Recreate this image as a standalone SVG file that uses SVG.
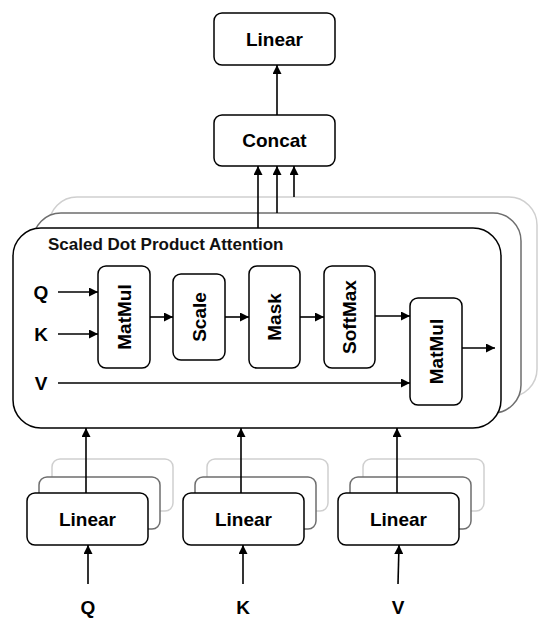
<svg xmlns="http://www.w3.org/2000/svg" width="550" height="634" viewBox="0 0 550 634">
<style>
.box{fill:#fff;stroke:#000;stroke-width:1.5}
.mid{fill:#fff;stroke:#6e6e6e;stroke-width:1.5}
.back{fill:#fff;stroke:#cfcfcf;stroke-width:1.5}
.t{font-family:"Liberation Sans",Arial,sans-serif;font-weight:bold;font-size:19px;fill:#000;text-anchor:middle}
.title{font-family:"Liberation Sans",Arial,sans-serif;font-weight:bold;font-size:17px;fill:#111}
.c{stroke:#000;stroke-width:1.6;fill:none;marker-end:url(#ah)}
</style>
<defs>
<marker id="ah" viewBox="0 0 10 10" refX="10" refY="5" markerWidth="9" markerHeight="9" markerUnits="userSpaceOnUse" orient="auto">
<path d="M0,0 L10,5 L0,10 z" fill="#000"/>
</marker>
</defs>
<rect width="550" height="634" fill="#fff"/>

<g id="linear-top">
<rect class="box" x="214" y="13" width="121" height="52" rx="8"/>
<text class="t" x="274.5" y="46">Linear</text>
</g>
<g id="concat">
<rect class="box" x="214" y="115" width="121" height="51" rx="8"/>
<text class="t" x="274.5" y="147">Concat</text>
</g>

<g id="attention-stack">
<rect class="back" x="49" y="197" width="488" height="200" rx="28"/>
<rect class="mid" x="33" y="213" width="488" height="200" rx="28"/>
</g>
<g id="attention">
<rect class="box" x="13" y="228" width="488" height="200" rx="28"/>
<text class="title" x="48" y="250">Scaled Dot Product Attention</text>
</g>

<g id="label-q-in"><text class="t" x="41" y="299">Q</text></g>
<g id="label-k-in"><text class="t" x="41" y="341">K</text></g>
<g id="label-v-in"><text class="t" x="41" y="390">V</text></g>

<g id="matmul1">
<rect class="box" x="98" y="266" width="52" height="102" rx="8"/>
<text class="t" transform="translate(124,317) rotate(-90)" x="0" y="6.7">MatMul</text>
</g>
<g id="scale">
<rect class="box" x="173" y="274" width="52" height="86" rx="8"/>
<text class="t" transform="translate(199,317) rotate(-90)" x="0" y="6.7">Scale</text>
</g>
<g id="mask">
<rect class="box" x="249" y="266" width="51" height="102" rx="8"/>
<text class="t" transform="translate(274.5,317) rotate(-90)" x="0" y="6.7">Mask</text>
</g>
<g id="softmax">
<rect class="box" x="324" y="266" width="51" height="102" rx="8"/>
<text class="t" transform="translate(349.5,317) rotate(-90)" x="0" y="6.7">SoftMax</text>
</g>
<g id="matmul2">
<rect class="box" x="410" y="298" width="52" height="107" rx="8"/>
<text class="t" transform="translate(436,351.5) rotate(-90)" x="0" y="6.7">MatMul</text>
</g>

<g id="linear-q">
<rect class="back" x="52" y="459" width="121" height="52" rx="8"/>
<rect class="mid" x="39" y="477" width="121" height="52" rx="8"/>
<rect class="box" x="27" y="493" width="121" height="52" rx="8"/>
<text class="t" x="87.5" y="526">Linear</text>
</g>
<g id="linear-k">
<rect class="back" x="207" y="459" width="121" height="52" rx="8"/>
<rect class="mid" x="195" y="477" width="121" height="52" rx="8"/>
<rect class="box" x="183" y="493" width="121" height="52" rx="8"/>
<text class="t" x="243.5" y="526">Linear</text>
</g>
<g id="linear-v">
<rect class="back" x="363" y="459" width="121" height="52" rx="8"/>
<rect class="mid" x="350" y="477" width="121" height="52" rx="8"/>
<rect class="box" x="338" y="493" width="121" height="52" rx="8"/>
<text class="t" x="398.5" y="526">Linear</text>
</g>

<g id="label-q"><text class="t" x="88" y="614">Q</text></g>
<g id="label-k"><text class="t" x="243" y="614">K</text></g>
<g id="label-v"><text class="t" x="398" y="614">V</text></g>

<g id="connectors">
<line class="c" x1="277" y1="115" x2="277" y2="65"/>
<line class="c" x1="258" y1="228" x2="258" y2="166"/>
<line class="c" x1="277" y1="213" x2="277" y2="166"/>
<line class="c" x1="294" y1="197" x2="294" y2="166"/>
<line class="c" x1="58" y1="292" x2="98" y2="292"/>
<line class="c" x1="58" y1="334" x2="98" y2="334"/>
<line class="c" x1="150" y1="317" x2="173" y2="317"/>
<line class="c" x1="225" y1="317" x2="249" y2="317"/>
<line class="c" x1="300" y1="317" x2="324" y2="317"/>
<line class="c" x1="375" y1="316" x2="410" y2="316"/>
<line class="c" x1="58" y1="383" x2="410" y2="383"/>
<line class="c" x1="462" y1="348" x2="495" y2="348"/>
<line class="c" x1="86" y1="493" x2="86" y2="428"/>
<line class="c" x1="241" y1="493" x2="241" y2="428"/>
<line class="c" x1="397" y1="493" x2="397" y2="428"/>
<line class="c" x1="88" y1="584" x2="88" y2="545"/>
<line class="c" x1="243" y1="584" x2="243" y2="545"/>
<line class="c" x1="398" y1="584" x2="399" y2="545"/>
</g>
</svg>
